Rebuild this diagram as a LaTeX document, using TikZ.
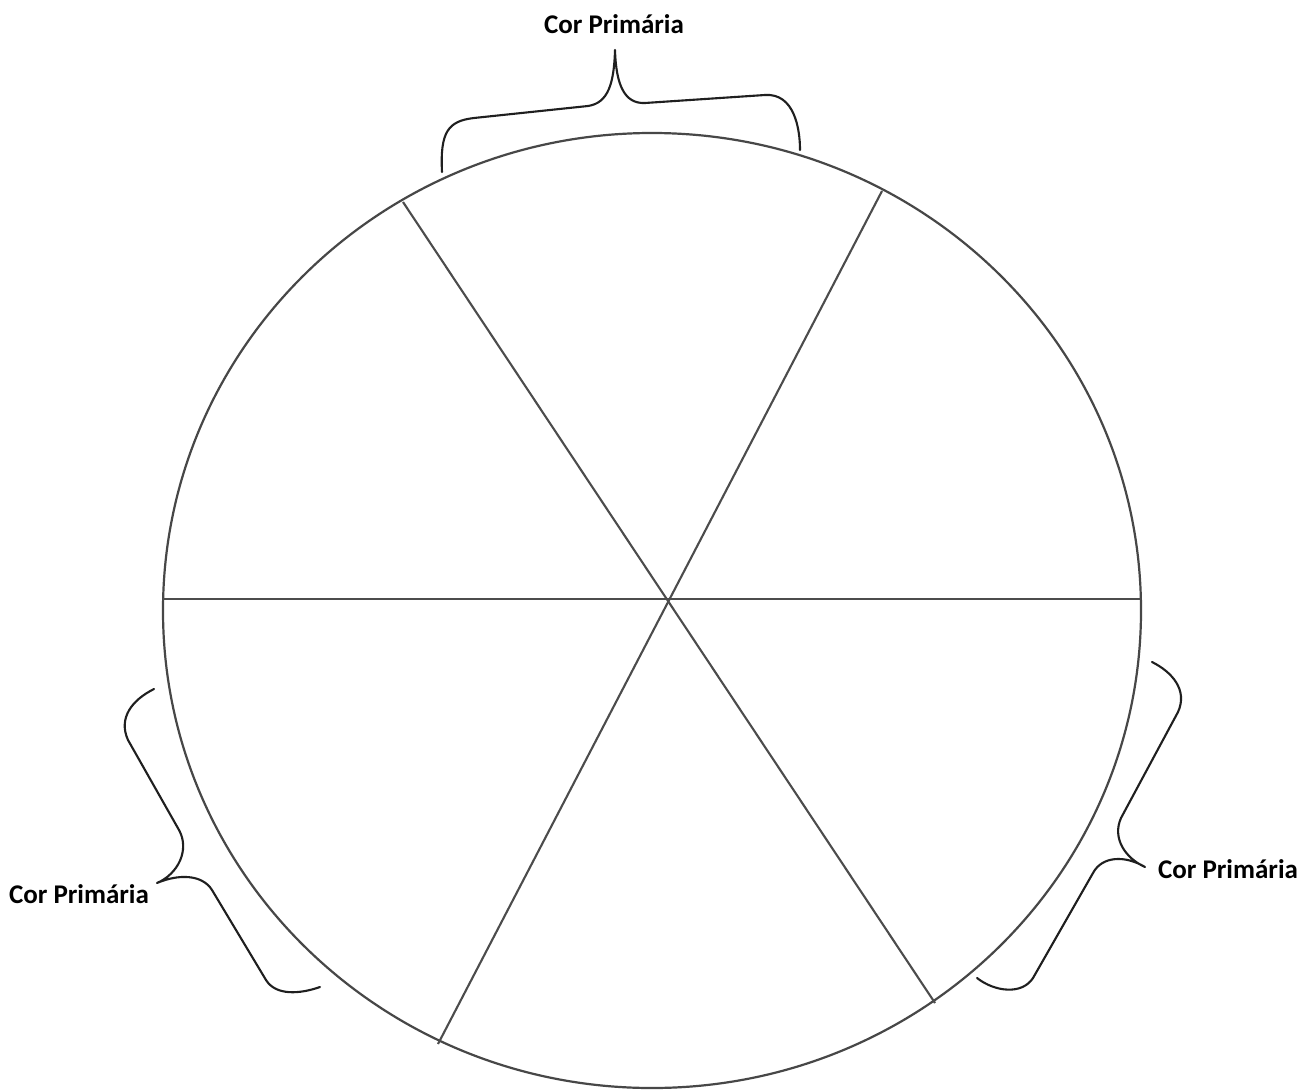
\documentclass[tikz,border=0pt]{standalone}
\usepackage{fontspec}
\setmainfont{Carlito}
\begin{document}
\begin{tikzpicture}[x=1pt,y=-1pt,
  wheel/.style={draw=black!72,line width=2.2pt},
  spoke/.style={draw=black!70,line width=2.1pt},
  bracestroke/.style={draw=black!88,line width=2.1pt,line cap=round,line join=round},
  lbl/.style={font=\bfseries\fontsize{27}{32}\selectfont,text=black,inner sep=0pt}]
\useasboundingbox (0,0) rectangle (1313,1089);
\fill[white] (0,0) rectangle (1313,1089);
% wheel
\draw[wheel] (652,610.5) ellipse [x radius=489pt, y radius=477.5pt];
\coordinate (L) at (163,599);
\coordinate (R) at (1141,599);
\coordinate (TL) at (403,202);
\coordinate (BR) at (935,1003);
\coordinate (TR) at (882,191);
\coordinate (BL) at (438,1044);
\draw[spoke] (L) -- (R);
\draw[spoke] (TL) -- (BR);
\draw[spoke] (TR) -- (BL);
% labels
\node[lbl] (top) at (614,24) {Cor Primária};
\node[lbl] (left) at (79,894) {Cor Primária};
\node[lbl] (right) at (1228,869) {Cor Primária};
% top brace
\draw[bracestroke] (442,172) .. controls (440,132) and (448,121) .. (474,118)
  -- (588,106) .. controls (608,103) and (614,84) .. (615,50)
  .. controls (616,84) and (624,104) .. (645,103)
  -- (765,95) .. controls (794,93) and (800,128) .. (800,150);
% left brace
\draw[bracestroke] (154,689) .. controls (132,700) and (118,718) .. (128,740)
  -- (179,830) .. controls (190,850) and (178,874) .. (157,883)
  .. controls (178,874) and (202,874) .. (212,890)
  -- (266,980) .. controls (276,996) and (300,994) .. (320,987);
% right brace
\draw[bracestroke] (1152,662) .. controls (1172,672) and (1188,690) .. (1178,712)
  -- (1121,818) .. controls (1112,838) and (1125,858) .. (1145,867)
  .. controls (1125,855) and (1102,856) .. (1093,873)
  -- (1033,978) .. controls (1022,995) and (995,992) .. (977,978);
\end{tikzpicture}
\end{document}
